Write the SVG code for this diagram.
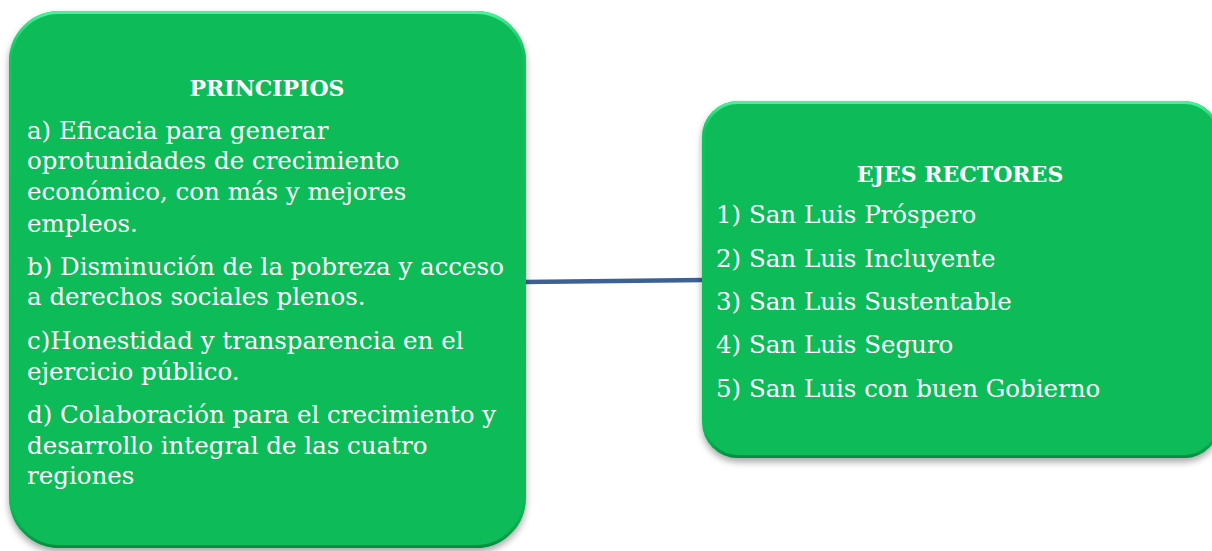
<svg xmlns="http://www.w3.org/2000/svg" width="1212" height="551" viewBox="0 0 1212 551">
  <defs>
    <filter id="shadow" x="-10%" y="-10%" width="120%" height="125%">
      <feDropShadow dx="0" dy="4" stdDeviation="3.5" flood-color="#000" flood-opacity="0.35"/>
    </filter>
    <linearGradient id="rim" x1="0" y1="0" x2="0" y2="1">
      <stop offset="0" stop-color="#48f29a"/>
      <stop offset="0.08" stop-color="#12c862" stop-opacity="0.6"/>
      <stop offset="0.9" stop-color="#08b856" stop-opacity="0"/>
      <stop offset="1" stop-color="#078c42"/>
    </linearGradient>
  </defs>
  <style>
    .box { fill: #08bb58; filter: url(#shadow); }
    .bevel { fill: none; stroke: url(#rim); stroke-width: 3; }
    .t { font-family: "DejaVu Serif", "Liberation Serif", serif; font-size: 24.5px; fill: #ffffff; }
    .h { font-family: "DejaVu Serif", "Liberation Serif", serif; font-size: 22px; font-weight: bold; fill: #ffffff; text-anchor: middle; }
    .conn { stroke: #3c6195; stroke-width: 4.5; fill: none; }
  </style>
  <rect width="1212" height="551" fill="#ffffff"/>
  <g id="connectors">
    <line class="conn" x1="524" y1="282" x2="704" y2="280"/>
  </g>
  <g id="principios">
    <rect class="box" x="9" y="11" width="517" height="537" rx="50" ry="50"/>
    <rect class="bevel" x="10.5" y="12.5" width="514" height="534" rx="48.5" ry="48.5"/>
    <text class="h" x="267" y="96">PRINCIPIOS</text>
    <text class="t" x="27" y="139">a) Eficacia para generar</text>
    <text class="t" x="27" y="169">oprotunidades de crecimiento</text>
    <text class="t" x="27" y="200">económico, con más y mejores</text>
    <text class="t" x="27" y="232">empleos.</text>
    <text class="t" x="27" y="275">b) Disminución de la pobreza y acceso</text>
    <text class="t" x="27" y="305">a derechos sociales plenos.</text>
    <text class="t" x="27" y="349">c)Honestidad y transparencia en el</text>
    <text class="t" x="27" y="380">ejercicio público.</text>
    <text class="t" x="27" y="423">d) Colaboración para el crecimiento y</text>
    <text class="t" x="27" y="454">desarrollo integral de las cuatro</text>
    <text class="t" x="27" y="484">regiones</text>
  </g>
  <g id="ejes-rectores">
    <rect class="box" x="702" y="101" width="518" height="357" rx="36" ry="36"/>
    <rect class="bevel" x="703.5" y="102.5" width="515" height="354" rx="34.5" ry="34.5"/>
    <text class="h" x="960" y="182">EJES RECTORES</text>
    <text class="t" x="716" y="223">1) San Luis Próspero</text>
    <text class="t" x="716" y="267">2) San Luis Incluyente</text>
    <text class="t" x="716" y="310">3) San Luis Sustentable</text>
    <text class="t" x="716" y="353">4) San Luis Seguro</text>
    <text class="t" x="716" y="397">5) San Luis con buen Gobierno</text>
  </g>
</svg>
